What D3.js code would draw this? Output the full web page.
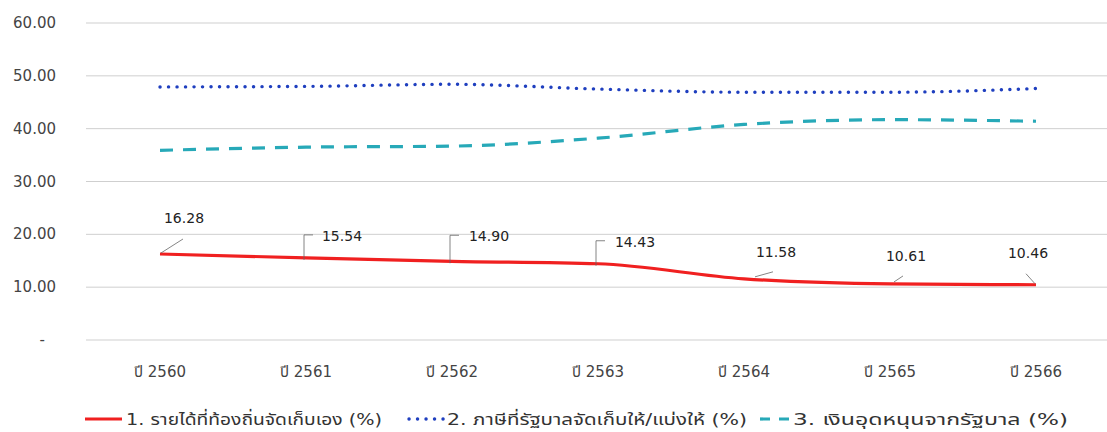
<!DOCTYPE html>
<html><head><meta charset="utf-8">
<script src="https://cdn.jsdelivr.net/npm/d3@7"></script>
<style>
body{margin:0;background:#fff;}
text{font-family:"DejaVu Sans","Noto Sans Thai","Noto Sans",sans-serif;}
</style></head>
<body><svg id="c" width="1107" height="432"></svg>
<script>
const categories = ["ปี 2560","ปี 2561","ปี 2562","ปี 2563","ปี 2564","ปี 2565","ปี 2566"];
const ownRevenue = [16.28,15.54,14.90,14.43,11.58,10.61,10.46];
const sharedTax = [47.9,48.0,48.4,47.5,46.9,46.9,47.6];
const subsidy = [35.9,36.5,36.7,38.2,40.8,41.7,41.4];
const yTicks = [0,10,20,30,40,50,60];
const seriesNames = ["1. รายได้ที่ท้องถิ่นจัดเก็บเอง (%)","2. ภาษีที่รัฐบาลจัดเก็บให้/แบ่งให้ (%)","3. เงินอุดหนุนจากรัฐบาล (%)"];

const svg = d3.select("#c");
const x = d3.scaleBand().domain(categories).range([87,1109]);
const y = d3.scaleLinear().domain([0,60]).range([340,23]);
const cx = d => x(d)+x.bandwidth()/2;

// grid
svg.append("g").selectAll("line").data(yTicks).join("line")
  .attr("x1",86).attr("x2",1107).attr("y1",d=>y(d)).attr("y2",d=>y(d))
  .attr("stroke","#cfcfcf").attr("stroke-width",1);

// y axis labels
svg.append("g").selectAll("text").data(yTicks).join("text")
  .attr("x",d=>d===0?45:56).attr("y",d=>y(d)+5)
  .attr("text-anchor","end").attr("font-size",15).attr("fill","#444")
  .text(d=>d===0?"-":d3.format(".2f")(d));

// x axis labels
svg.append("g").selectAll("text").data(categories).join("text")
  .attr("x",d=>cx(d)).attr("y",377).attr("text-anchor","middle")
  .attr("font-size",15).attr("fill","#444").text(d=>d);

const line = d3.line().x((d,i)=>cx(categories[i])).y(d=>y(d)).curve(d3.curveMonotoneX);

svg.append("path").datum(subsidy).attr("d",line).attr("fill","none")
  .attr("stroke","#27a9b8").attr("stroke-width",3.2).attr("stroke-dasharray","13,10");
svg.append("path").datum(sharedTax).attr("d",line).attr("fill","none")
  .attr("stroke","#1f3fbf").attr("stroke-width",3.4).attr("stroke-linecap","round").attr("stroke-dasharray","0.1,8.4");
svg.append("path").datum(ownRevenue).attr("d",line).attr("fill","none")
  .attr("stroke","#f02020").attr("stroke-width",3.2);

// data labels with leader lines (offsets relative to point)
const labelOff = [[24,-36],[36,-22],[37,-25],[37,-22],[32,-27],[16,-28],[-8,-32]];
const lbl = svg.append("g");
ownRevenue.forEach((v,i)=>{
  const px = cx(categories[i]), py = y(v);
  const [dx,dy] = labelOff[i];
  const tx = px+dx, ty = py+dy;
  let pts;
  if(i>=1 && i<=3) pts = [[px-2,py+2],[px-2,ty-1],[px+7,ty-1]];
  else if(i===0) pts = [[px+1,py-1],[px+23,py-15]];
  else if(i===4) pts = [[px+11,py-2],[px+29,py-7]];
  else if(i===5) pts = [[px+4,py-2],[px+13,py-8]];
  else pts = [[px-1,py-1],[px-10,py-11]];
  lbl.append("path").attr("d",d3.line()(pts)).attr("fill","none").attr("stroke","#666").attr("stroke-width",0.8);
  lbl.append("text").attr("x",tx).attr("y",ty+5).attr("text-anchor","middle")
    .attr("font-size",14).attr("fill","#222").text(d3.format(".2f")(v));
});

// legend
const lg = svg.append("g");
const ly = 419;
function legendText(xp, txt, len){
  lg.append("text").attr("x",xp).attr("y",ly+5.5).attr("font-size",16).attr("fill","#333")
    .attr("textLength",len).attr("lengthAdjust","spacingAndGlyphs").text(txt);
}
lg.append("line").attr("x1",85).attr("x2",122).attr("y1",ly).attr("y2",ly).attr("stroke","#f02020").attr("stroke-width",3.2);
legendText(126, seriesNames[0], 256);
lg.append("line").attr("x1",409).attr("x2",445).attr("y1",ly).attr("y2",ly).attr("stroke","#1f3fbf").attr("stroke-width",3.4).attr("stroke-linecap","round").attr("stroke-dasharray","0.1,8.4");
legendText(447, seriesNames[1], 300);
lg.append("line").attr("x1",760).attr("x2",793).attr("y1",ly).attr("y2",ly).attr("stroke","#27a9b8").attr("stroke-width",3.2).attr("stroke-dasharray","10,9");
legendText(793, seriesNames[2], 275);
</script></body></html>
